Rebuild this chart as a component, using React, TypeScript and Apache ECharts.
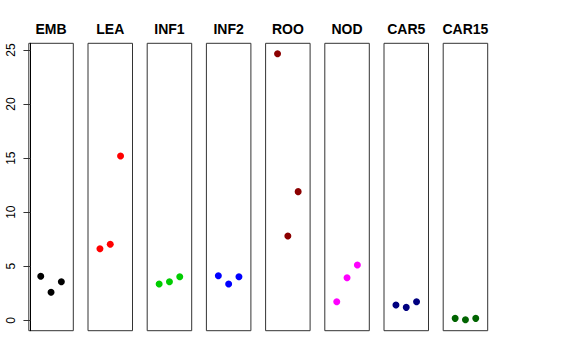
import React, { useEffect, useRef } from "react";
import * as echarts from "echarts";

const categories = ["EMB", "LEA", "INF1", "INF2", "ROO", "NOD", "CAR5", "CAR15"];
const xPositions = [1, 2, 3];
const embValues = [4.07, 2.59, 3.57];
const leaValues = [6.62, 7.03, 15.2];
const inf1Values = [3.36, 3.57, 4.03];
const inf2Values = [4.13, 3.36, 4.03];
const rooValues = [24.66, 7.8, 11.9];
const nodValues = [1.72, 3.94, 5.12];
const car5Values = [1.42, 1.2, 1.72];
const car15Values = [0.18, 0.06, 0.18];
const panelValues = [embValues, leaValues, inf1Values, inf2Values, rooValues, nodValues, car5Values, car15Values];
const panelColors = ["#000000", "#FF0000", "#00CD00", "#0000FF", "#8B0000", "#FF00FF", "#000080", "#006400"];
const yTicks = [0, 5, 10, 15, 20, 25];

const FIRST_LEFT = 28.8;
const STEP = 59.2;
const PANEL_W = 44.5;
const TOP = 43.3;
const HEIGHT = 287.4;

export default function App() {
  const ref = useRef<HTMLDivElement>(null);
  useEffect(() => {
    if (!ref.current) return;
    const chart = echarts.init(ref.current, null, { renderer: "svg" });
    const grids = categories.map((_, i) => ({
      left: FIRST_LEFT + i * STEP,
      top: TOP,
      width: PANEL_W,
      height: HEIGHT,
      show: true,
      borderColor: "#333",
      borderWidth: 1,
      backgroundColor: "transparent",
    }));
    const xAxes = categories.map((_, i) => ({
      type: "value",
      gridIndex: i,
      min: -0.16,
      max: 4.16,
      show: false,
    }));
    const yAxes = categories.map((_, i) => ({
      type: "value",
      gridIndex: i,
      min: -0.96,
      max: 25.62,
      show: i === 0,
      splitLine: { show: false },
      axisLine: { show: i === 0, lineStyle: { color: "#000", width: 1 } },
      axisTick: {
        show: i === 0,
        length: 7,
        customValues: yTicks,
        lineStyle: { color: "#333" },
      },
      axisLabel: {
        show: i === 0,
        customValues: yTicks,
        rotate: 90,
        margin: 12,
        fontSize: 12,
        fontFamily: "Liberation Sans",
        color: "#000",
      },
    }));
    const series = categories.map((_, i) => ({
      type: "scatter",
      xAxisIndex: i,
      yAxisIndex: i,
      symbol: "circle",
      symbolSize: 7,
      itemStyle: { color: panelColors[i], opacity: 1 },
      data: xPositions.map((x, j) => [x, panelValues[i][j]]),
    }));
    const titles = categories.map((name, i) => ({
      type: "text",
      x: FIRST_LEFT + i * STEP + PANEL_W / 2,
      y: 29,
      style: {
        text: name,
        textAlign: "center",
        textVerticalAlign: "middle",
        fontSize: 14,
        fontWeight: "bold",
        fontFamily: "Liberation Sans",
        fill: "#000",
      },
    }));
    chart.setOption({
      animation: false,
      backgroundColor: "#fff",
      grid: grids,
      xAxis: xAxes,
      yAxis: yAxes,
      series,
      graphic: titles,
    });
    return () => chart.dispose();
  }, []);
  return (
    <div
      ref={ref}
      style={{ position: "fixed", left: 0, top: 0, width: 576, height: 360 }}
    />
  );
}
